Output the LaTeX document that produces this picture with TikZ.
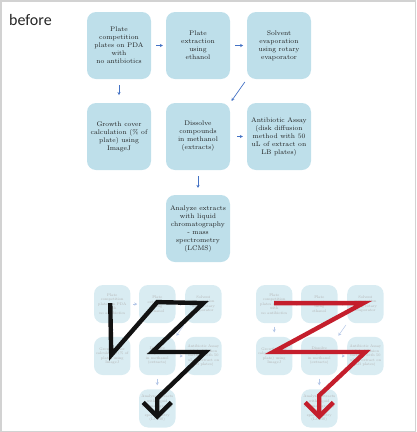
\documentclass[tikz,border=0pt]{standalone}
\usepackage{fontspec}
\newfontfamily\titlefont{Carlito}
\usetikzlibrary{arrows.meta,calc}
\definecolor{boxblue}{HTML}{BEDFEA}
\definecolor{miniblue}{HTML}{D9ECF2}
\definecolor{arrowblue}{HTML}{4472C4}
\definecolor{zzred}{HTML}{C41E2C}
\definecolor{zzblack}{HTML}{121212}
\definecolor{framegray}{HTML}{D2D2D2}
\tikzset{
  box/.style={rounded corners=9pt, fill=boxblue, minimum width=64pt, minimum height=67pt,
    align=center, font=\fontsize{6.7}{8}\selectfont, text=black!88, inner sep=0pt},
  flowarrow/.style={draw=arrowblue, line width=0.7pt, -{Stealth[length=3pt,width=3.2pt]}},
  mini/.style={box/.append style={fill=miniblue, text=black!30},
    flowarrow/.append style={draw=arrowblue!40, line width=0.5pt}},
  zigzag/.style={line width=4.4pt},
}
\newcommand{\drawflow}[1]{%
  \node[box] (#1b1) at (119,45.5) {Plate\\competition\\plates on PDA\\with\\no antibiotics};
  \node[box] (#1b2) at (198,45.5) {Plate\\extraction\\using\\ethanol};
  \node[box] (#1b3) at (279,45.5) {Solvent\\evaporation\\using rotary\\evaporator};
  \node[box] (#1b4) at (119,136.5) {Growth cover\\calculation (\% of\\plate) using\\ImageJ};
  \node[box] (#1b5) at (198,136.5) {Dissolve\\compounds\\in methanol\\(extracts)};
  \node[box] (#1b6) at (279,136.5) {Antibiotic Assay\\(disk diffusion\\method with 50\\uL of extract on\\LB plates)};
  \node[box] (#1b7) at (198,228.5) {Analyze extracts\\with liquid\\chromatography\\- mass\\spectrometry\\(LCMS)};
  \draw[flowarrow] ($(#1b1.east)!0.33!(#1b2.west)$) -- ($(#1b1.east)!0.8!(#1b2.west)$);
  \draw[flowarrow] ($(#1b2.east)!0.3!(#1b3.west)$) -- ($(#1b2.east)!0.78!(#1b3.west)$);
  \draw[flowarrow] ($(#1b1.south)!0.25!(#1b4.north)$) -- ($(#1b1.south)!0.67!(#1b4.north)$);
  \draw[flowarrow] ($(#1b3.south west)!0.12!(#1b5.north east)$) -- ($(#1b3.south west)!0.92!(#1b5.north east)$);
  \draw[flowarrow] ($(#1b5.east)!0.41!(#1b6.west)$) -- ($(#1b5.east)!0.76!(#1b6.west)$);
  \draw[flowarrow] ($(#1b5.south)!0.24!(#1b7.north)$) -- ($(#1b5.south)!0.72!(#1b7.north)$);
}
\begin{document}
\begin{tikzpicture}[x=1pt,y=-1pt]
  \useasboundingbox (0,0) rectangle (416,432);
  \draw[framegray, line width=1.5pt] (0.75,0.75) rectangle (415.25,431.25);
  \node[font=\titlefont\fontsize{16}{19}\selectfont, anchor=base west, inner sep=0pt, text=black!85] (title) at (9,25) {before};
  \drawflow{M}
  \begin{scope}[shift={(44.41,278.16)}, scale=0.57, transform shape, mini]
    \drawflow{L}
  \end{scope}
  \begin{scope}[shift={(206.41,278.16)}, scale=0.57, transform shape, mini]
    \drawflow{R}
  \end{scope}
  % black zigzag
  \coordinate (Ltip) at ($(Lb7.center)+(0,8)$);
  \draw[zigzag, draw=zzblack] ($(Lb1.center)+(-2,-1)$) -- ($(Lb4.center)+(-1,-1)$)
    -- ($(Lb2.center)+(0,-2)$) -- ($(Lb3.center)+(0,-1)$)
    -- ($(Lb5.center)+(-5,-4)$) -- ($(Lb6.center)+(2,-4)$)
    -- ($(Lb7.center)+(0,-10)$) -- (Ltip);
  \draw[zigzag, draw=zzblack] ($(Ltip)+(-14,-14)$) -- (Ltip) -- ($(Ltip)+(14,-14)$);
  % red zigzag
  \coordinate (Rtip) at ($(Rb7.center)+(0,8)$);
  \draw[zigzag, draw=zzred] ($(Rb1.center)+(0,-1)$) -- ($(Rb3.center)+(-2,-1)$)
    -- ($(Rb4.center)+(-1,-4)$) -- ($(Rb6.center)+(0,-4)$)
    -- ($(Rb7.center)+(0,-13)$) -- (Rtip);
  \draw[zigzag, draw=zzred] ($(Rtip)+(-14,-14)$) -- (Rtip) -- ($(Rtip)+(14,-14)$);
\end{tikzpicture}
\end{document}
